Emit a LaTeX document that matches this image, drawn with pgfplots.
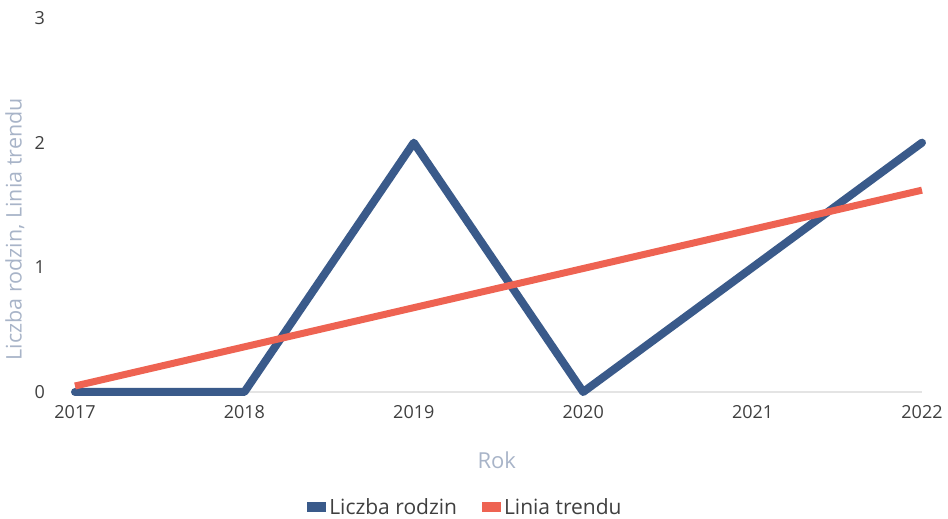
\documentclass[border=0pt]{standalone}
\usepackage{fontspec}
\setmainfont{Open Sans}
\usepackage{pgfplots}
\pgfplotsset{compat=1.18}
\definecolor{cblue}{HTML}{3A5A8A}
\definecolor{cred}{HTML}{EE6352}
\definecolor{cylab}{HTML}{A8B4C8}
\definecolor{ctick}{HTML}{3F3F3F}
\definecolor{cbase}{HTML}{E4E4E4}
\begin{document}
\begin{tikzpicture}
\begin{axis}[
  at={(0pt,0pt)}, anchor=origin,
  scale only axis,
  width=847pt, height=374pt,
  xmin=2017, xmax=2022, ymin=0, ymax=3,
  axis x line=bottom, axis y line=left,
  x axis line style={-, draw=cbase, line width=1.2pt},
  y axis line style={draw=none},
  tick style={draw=none},
  xtick={2017,2018,2019,2020,2021,2022},
  ytick={0,1,2,3},
  /pgf/number format/assume math mode=true,
  x tick label style={/pgf/number format/1000 sep={}, anchor=center, yshift=-18pt, font=\fontsize{18}{21}\selectfont, text=ctick},
  y tick label style={anchor=center, xshift=-33pt, font=\fontsize{18}{21}\selectfont, text=ctick},
  xlabel={Rok},
  xlabel style={at={(axis description cs:0.498,-0.182)}, anchor=center, font=\fontsize{22}{25}\selectfont, text=cylab},
  ylabel={Liczba rodzin, Linia trendu},
  ylabel style={at={(axis description cs:-0.071,0.435)}, anchor=center, rotate=0, font=\fontsize{21.5}{25}\selectfont, text=cylab},
  legend style={at={(axis description cs:0.4616,-0.307)}, anchor=center, draw=none, fill=none,
    font=\fontsize{21}{24}\selectfont, text=ctick, nodes={inner sep=3pt}, /tikz/every even column/.append style={column sep=22pt}},
  legend columns=2,
  legend image code/.code={\fill[#1, draw=none] (0pt,-5pt) rectangle (19pt,5pt);},
  clip=false,
]
\addplot[cblue, line width=8pt, line join=round, line cap=round] coordinates {(2017,0) (2018,0) (2019,2) (2020,0) (2021,1) (2022,2)};
\addlegendentry{Liczba rodzin}
\addplot[cred, line width=7pt] coordinates {(2017,0.048) (2022,1.619)};
\addlegendentry{Linia trendu}
\end{axis}
\pgfresetboundingbox
\path[use as bounding box] (-75pt,-127pt) rectangle (873pt,392pt);
\end{tikzpicture}
\end{document}
